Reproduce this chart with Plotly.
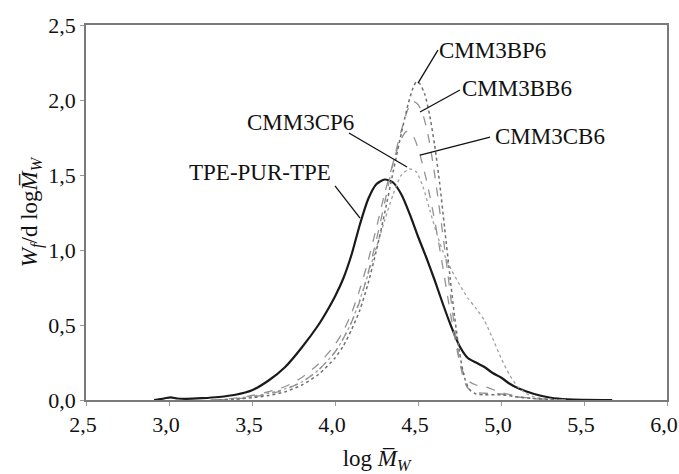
import plotly.graph_objects as go

# ---- data ----
tpe_x = [2.91, 2.97, 3.01, 3.05, 3.1, 3.2, 3.3, 3.4, 3.5, 3.6, 3.7, 3.8, 3.9, 3.95, 4.0, 4.05, 4.1, 4.15, 4.2, 4.25, 4.3,
         4.35, 4.4, 4.45, 4.5, 4.55, 4.6, 4.65, 4.7, 4.75, 4.8, 4.85, 4.9, 4.95, 5.0, 5.05, 5.1, 5.2, 5.3, 5.4, 5.67]
tpe_y = [0.0, 0.01, 0.018, 0.01, 0.008, 0.012, 0.02, 0.035, 0.065, 0.13, 0.22, 0.35, 0.5, 0.59, 0.69, 0.81, 0.97, 1.17, 1.34, 1.44, 1.47,
         1.45, 1.37, 1.24, 1.09, 0.95, 0.8, 0.64, 0.49, 0.36, 0.28, 0.25, 0.22, 0.18, 0.15, 0.11, 0.08, 0.04, 0.015, 0.005, 0.0]

bp6_x = [3.3, 3.4, 3.5, 3.6, 3.7, 3.8, 3.9, 4.0, 4.05, 4.1, 4.15, 4.2, 4.25, 4.3, 4.35, 4.4, 4.44, 4.47, 4.49, 4.51, 4.54,
         4.57, 4.6, 4.63, 4.66, 4.69, 4.72, 4.75, 4.78, 4.81, 4.85, 4.9, 5.0, 5.1, 5.2, 5.35]
bp6_y = [0.0, 0.005, 0.015, 0.03, 0.055, 0.1, 0.17, 0.28, 0.36, 0.47, 0.6, 0.78, 1.0, 1.25, 1.52, 1.78, 1.97, 2.08, 2.12, 2.11, 2.04,
         1.9, 1.7, 1.45, 1.15, 0.85, 0.56, 0.32, 0.15, 0.07, 0.04, 0.035, 0.035, 0.02, 0.01, 0.0]

bb6_x = [3.3, 3.4, 3.5, 3.6, 3.7, 3.8, 3.9, 4.0, 4.05, 4.1, 4.15, 4.2, 4.25, 4.3, 4.35, 4.4, 4.44, 4.47, 4.5, 4.53,
         4.56, 4.59, 4.62, 4.65, 4.68, 4.71, 4.74, 4.77, 4.8, 4.85, 4.9, 5.0, 5.1, 5.3]
bb6_y = [0.0, 0.007, 0.02, 0.04, 0.07, 0.12, 0.2, 0.32, 0.41, 0.52, 0.66, 0.85, 1.07, 1.32, 1.58, 1.8, 1.94, 1.99, 1.97, 1.9,
         1.77, 1.58, 1.35, 1.1, 0.84, 0.57, 0.33, 0.16, 0.08, 0.05, 0.045, 0.04, 0.02, 0.0]

cb6_x = [3.25, 3.4, 3.5, 3.6, 3.7, 3.8, 3.9, 4.0, 4.05, 4.1, 4.15, 4.2, 4.25, 4.3, 4.35, 4.39, 4.43, 4.47, 4.5, 4.53,
         4.56, 4.6, 4.64, 4.68, 4.72, 4.76, 4.8, 4.85, 4.9, 4.95, 5.0, 5.1, 5.2, 5.4]
cb6_y = [0.0, 0.012, 0.03, 0.055, 0.09, 0.15, 0.24, 0.37, 0.46, 0.58, 0.74, 0.93, 1.15, 1.38, 1.58, 1.72, 1.79, 1.76, 1.68, 1.56,
         1.42, 1.2, 0.95, 0.68, 0.42, 0.22, 0.13, 0.1, 0.09, 0.07, 0.05, 0.025, 0.01, 0.0]

cp6_x = [3.3, 3.4, 3.5, 3.6, 3.7, 3.8, 3.9, 4.0, 4.05, 4.1, 4.15, 4.2, 4.25, 4.3, 4.35, 4.4, 4.45, 4.49, 4.53, 4.57,
         4.61, 4.65, 4.7, 4.75, 4.8, 4.85, 4.9, 4.95, 5.0, 5.05, 5.1, 5.15, 5.2, 5.3, 5.4]
cp6_y = [0.0, 0.01, 0.025, 0.045, 0.075, 0.12, 0.2, 0.32, 0.41, 0.52, 0.67, 0.84, 1.02, 1.2, 1.37, 1.5, 1.54, 1.52, 1.42, 1.27,
         1.12, 0.99, 0.87, 0.77, 0.68, 0.61, 0.53, 0.41, 0.28, 0.17, 0.09, 0.045, 0.02, 0.005, 0.0]

x_ticks = [2.5, 3.0, 3.5, 4.0, 4.5, 5.0, 5.5, 6.0]
y_ticks = [0.0, 0.5, 1.0, 1.5, 2.0, 2.5]

# labels: text, text anchor point, leader start, leader end
labels = ["CMM3BP6", "CMM3BB6", "CMM3CB6", "CMM3CP6", "TPE-PUR-TPE"]
label_x = [4.614, 4.753, 4.952, 3.458, 3.988]
label_y = [2.333, 2.08, 1.76, 1.853, 1.52]
label_anchor = ["left", "left", "left", "left", "right"]
lead_x0 = [4.62, 4.753, 4.934, 4.084, 4.0]
lead_y0 = [2.333, 2.067, 1.753, 1.78, 1.427]
lead_x1 = [4.50, 4.512, 4.512, 4.434, 4.151]
lead_y1 = [2.113, 1.92, 1.633, 1.553, 1.213]

FONT = "Liberation Serif"

fig = go.Figure()
series = [
    (tpe_x, tpe_y, dict(color="#1a1a1a", width=2.2, dash="solid")),
    (cp6_x, cp6_y, dict(color="#a0a0a0", width=1.3, dash="dot")),
    (cb6_x, cb6_y, dict(color="#939393", width=1.3, dash="dash")),
    (bb6_x, bb6_y, dict(color="#939393", width=1.3, dash="dash")),
    (bp6_x, bp6_y, dict(color="#707070", width=1.5, dash="dot")),
]
for xs, ys, ln in series:
    fig.add_trace(go.Scatter(x=xs, y=ys, mode="lines", line=dict(shape="spline", smoothing=0.7, **ln),
                             showlegend=False, hoverinfo="skip"))

for t, x, y, a, x0, y0, x1, y1 in zip(labels, label_x, label_y, label_anchor, lead_x0, lead_y0, lead_x1, lead_y1):
    fig.add_annotation(x=x, y=y, text=t, showarrow=False, xanchor=a, yanchor="middle",
                       font=dict(family=FONT, size=23, color="#111111"))
    fig.add_shape(type="line", x0=x0, y0=y0, x1=x1, y1=y1, xref="x", yref="y",
                  line=dict(color="#111111", width=1.3))

axis_common = dict(
    showgrid=False, zeroline=False, showline=True, linecolor="#7a7a7a", linewidth=1.5, mirror=True,
    ticks="outside", ticklen=4, tickcolor="#9a9a9a", tickwidth=1, ticklabeloverflow="allow",
    automargin=False,
    tickfont=dict(family=FONT, size=22, color="#111111"), tickformat=".1f",
)
fig.update_xaxes(range=[2.5, 6.0], tickvals=x_ticks, ticklabelshift=-3, **axis_common,
                 title=dict(text="log <i>M\u0305</i><sub><i>W</i></sub>", standoff=22,
                            font=dict(family=FONT, size=23, color="#111111")))
fig.update_yaxes(range=[0, 2.5], tickvals=y_ticks, **axis_common,
                 title=dict(text="<i>W</i><sub><i>f</i></sub>/d log<i>M\u0305</i><sub><i>W</i></sub>", standoff=4,
                            font=dict(family=FONT, size=23, color="#111111")))

fig.update_layout(
    width=679, height=474, separators=", ",
    margin=dict(l=86, r=12, t=25, b=74),
    paper_bgcolor="white", plot_bgcolor="white",
    font=dict(family=FONT),
)
fig.write_html("out.html")
